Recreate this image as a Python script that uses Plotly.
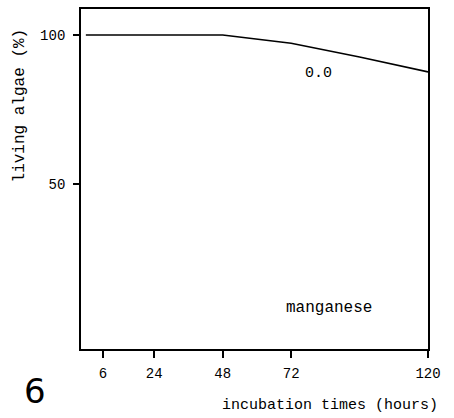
import plotly.graph_objects as go

hours = [0, 6, 24, 48, 72, 96, 120]
living = [100, 100, 100, 100, 97.2, 92.6, 87.6]
x_ticks = [6, 24, 48, 72, 120]
y_ticks = [50, 100]
series_label = "0.0"
metal_label = "manganese"
panel_label = "6"

W, H = 454, 418
L, R, T, B = 81, 26, 7, 69
PW, PH = W - L - R, H - T - B

mono = "Liberation Mono, DejaVu Sans Mono, monospace"

def px(xpix):
    return (xpix - L) / PW

def py(ypix):
    return (H - B - ypix) / PH

fig = go.Figure()
fig.add_trace(go.Scatter(x=hours, y=living, mode="lines",
                         line=dict(color="black", width=1.6),
                         showlegend=False, hoverinfo="skip"))

fig.update_layout(
    width=W, height=H,
    margin=dict(l=L, r=R, t=T, b=B, pad=0),
    paper_bgcolor="white", plot_bgcolor="white",
    font=dict(family=mono, color="black", size=14),
    xaxis=dict(range=[-1.7, 120], tickvals=x_ticks, ticktext=[str(v) for v in x_ticks],
               showgrid=False, zeroline=False, showline=True, linecolor="black",
               linewidth=1.8, mirror=True, ticks="outside", ticklen=7, tickwidth=1.5,
               tickcolor="black", ticklabelstandoff=3,
               tickfont=dict(family=mono, size=14)),
    yaxis=dict(range=[-5.3, 108.7], tickvals=y_ticks, ticktext=[str(v) for v in y_ticks],
               showgrid=False, zeroline=False, showline=True, linecolor="black",
               linewidth=1.8, mirror=True, ticks="outside", ticklen=6, tickwidth=1.5,
               tickcolor="black", ticklabelstandoff=5,
               tickfont=dict(family=mono, size=14)),
)

fig.add_annotation(x=px(318), y=py(72), xref="paper", yref="paper",
                   text=series_label, showarrow=False,
                   font=dict(family=mono, size=15), xanchor="center", yanchor="middle")
fig.add_annotation(x=px(329), y=py(308), xref="paper", yref="paper",
                   text=metal_label, showarrow=False,
                   font=dict(family=mono, size=16), xanchor="center", yanchor="middle")
fig.add_annotation(x=px(330), y=py(406), xref="paper", yref="paper",
                   text="incubation times (hours)", showarrow=False,
                   font=dict(family=mono, size=15), xanchor="center", yanchor="middle")
fig.add_annotation(x=px(20), y=py(104), xref="paper", yref="paper",
                   text="living algae (%)", showarrow=False, textangle=-90,
                   font=dict(family=mono, size=16), xanchor="center", yanchor="middle")
fig.add_annotation(x=px(35), y=py(391), xref="paper", yref="paper",
                   text=panel_label, showarrow=False,
                   font=dict(family="DejaVu Sans, sans-serif", size=34), xanchor="center", yanchor="middle")

fig.write_html("out.html", config={"displayModeBar": False},
               post_script="document.body.style.margin='0px';document.body.style.padding='0px';")
